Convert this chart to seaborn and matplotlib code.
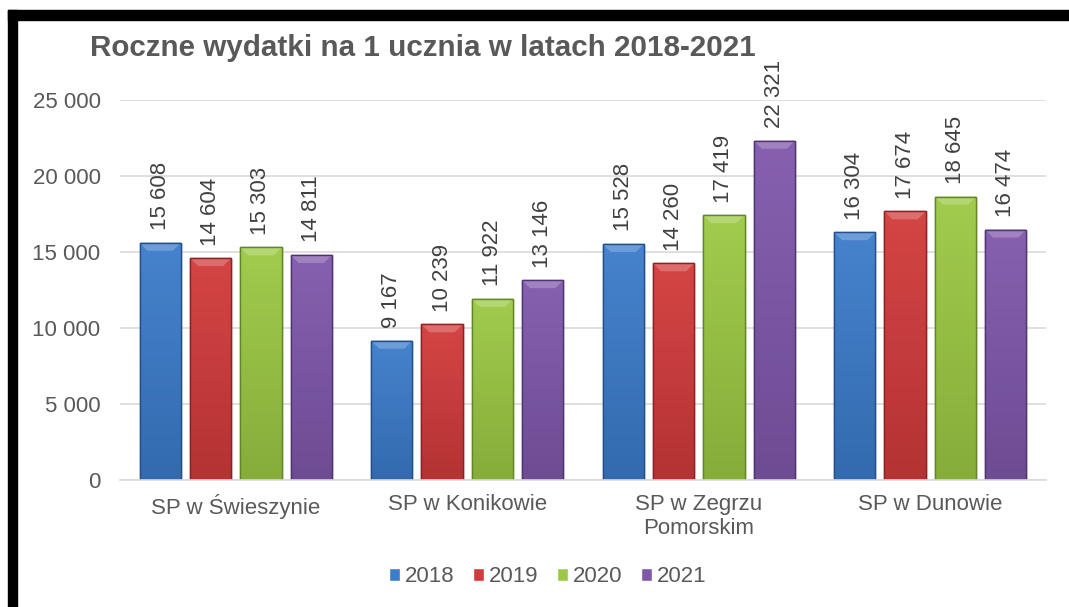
import numpy as np
import pandas as pd
import seaborn as sns
import matplotlib.pyplot as plt
from matplotlib.patches import Rectangle, Polygon
from matplotlib.colors import to_rgb

# Data
schools = ['SP w Świeszynie', 'SP w Konikowie', 'SP w Zegrzu\nPomorskim', 'SP w Dunowie']
years = ['2018', '2019', '2020', '2021']
v2018 = [15608, 9167, 15528, 16304]
v2019 = [14604, 10239, 14260, 17674]
v2020 = [15303, 11922, 17419, 18645]
v2021 = [14811, 13146, 22321, 16474]
colors = ['#3C7CCB', '#D23B3B', '#9CC944', '#8058AB']
edges = ['#24508A', '#8E2222', '#62852A', '#4F3573']

rows = []
for year, vals in zip(years, [v2018, v2019, v2020, v2021]):
    for school, v in zip(schools, vals):
        rows.append({'Szkoła': school, 'Rok': year, 'Wydatki': v})
df = pd.DataFrame(rows)

sns.set_style('white')
plt.rcParams['font.family'] = ['Liberation Sans', 'DejaVu Sans']
txt = '#595959'
fs = 16

fig = plt.figure(figsize=(10.69, 6.07), dpi=100)
ax = fig.add_axes([120 / 1069, 127 / 607, 926 / 1069, 380 / 607])

sns.barplot(data=df, x='Szkoła', y='Wydatki', hue='Rok', palette=colors, saturation=1,
            width=0.87, gap=0.18, ax=ax, legend=True)

ax.set_ylim(0, 25000)
ax.set_xlim(-0.5, 3.5)

# pixel -> data unit helpers for the bevel look
dy = 8 * 25000 / 380
dx = 8 * 4 / 926


def shade(c, f):
    r = np.array(to_rgb(c))
    return np.clip(r * f, 0, 1) if f < 1 else r + (1 - r) * (f - 1)


for i, container in enumerate(ax.containers):
    for bar in container:
        bar.set_edgecolor(edges[i])
        bar.set_linewidth(1.0)
        x0, w, h = bar.get_x(), bar.get_width(), bar.get_height()
        # vertical gradient, lighter at the top
        grad = np.linspace(0, 1, 64)[:, None, None]
        img = shade(colors[i], 1.05) * (1 - grad) + shade(colors[i], 0.86) * grad
        im = ax.imshow(img, extent=[x0, x0 + w, 0, h], aspect='auto', zorder=2.1)
        im.set_clip_path(bar)
        # top bevel
        ax.add_patch(Polygon([[x0, h], [x0 + w, h], [x0 + w - dx, h - dy], [x0 + dx, h - dy]],
                             closed=True, facecolor=shade(colors[i], 1.25), edgecolor='none',
                             zorder=2.2))
        ax.add_patch(Rectangle((x0, 0), w, h, facecolor='none', edgecolor=edges[i],
                               linewidth=1.0, zorder=2.3))
    ax.bar_label(container, labels=[f'{int(b.get_height()):,}'.replace(',', ' ') for b in container],
                 rotation=90, padding=9, fontsize=fs, color='#404040')

ax.set_ylim(0, 25000)
ax.set_xlim(-0.5, 3.5)
ax.set_yticks(range(0, 25001, 5000))
ax.set_yticklabels([f'{t:,}'.replace(',', ' ') for t in range(0, 25001, 5000)])
ax.grid(axis='y', color='#D9D9D9', linewidth=1.2)
ax.set_axisbelow(True)
for s in ['top', 'right', 'left']:
    ax.spines[s].set_visible(False)
ax.spines['bottom'].set_color('#D9D9D9')
ax.spines['bottom'].set_linewidth(1.2)
ax.tick_params(axis='y', length=0, pad=14, labelsize=fs, labelcolor=txt)
ax.tick_params(axis='x', length=0, pad=10, labelsize=fs, labelcolor=txt)
ax.set_xlabel('')
ax.set_ylabel('')

leg = ax.legend(loc='center', bbox_to_anchor=(0.462, -0.255), ncol=4, frameon=False,
                fontsize=fs, handlelength=0.5, handleheight=0.5, handletextpad=0.2,
                columnspacing=0.85)
for t in leg.get_texts():
    t.set_color(txt)

fig.text(90 / 1069, 1 - 48 / 607, 'Roczne wydatki na 1 ucznia w latach 2018-2021',
         fontsize=21.3, fontweight='bold', color=txt, va='center', ha='left')

# black frame remnants at top and left edge
fig.add_artist(Rectangle((8 / 1069, 1 - 20 / 607), 1, 10 / 607, transform=fig.transFigure,
                         color='black', zorder=10))
fig.add_artist(Rectangle((8 / 1069, 0), 9 / 1069, 1 - 10 / 607, transform=fig.transFigure,
                         color='black', zorder=10))

plt.savefig('out.png', dpi=100)
